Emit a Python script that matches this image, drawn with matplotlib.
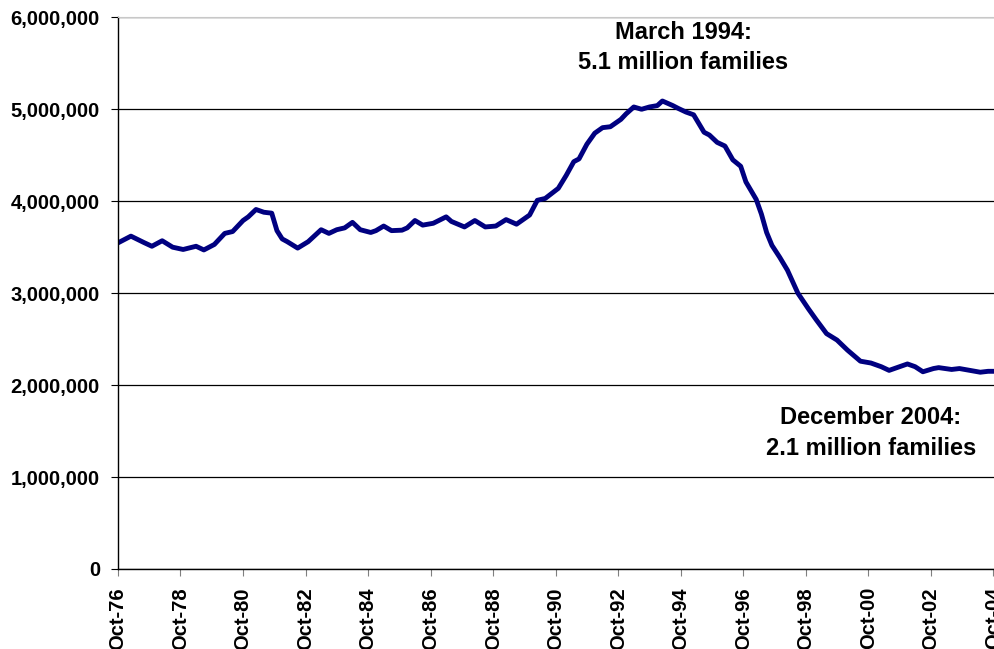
import pandas as pd
import matplotlib
matplotlib.use('Agg')
import matplotlib.pyplot as plt
import matplotlib.dates as mdates
from matplotlib.ticker import FuncFormatter

plt.rcParams['font.family'] = ['Liberation Sans', 'DejaVu Sans']
plt.rcParams['font.weight'] = 'bold'

months = ['1976-10', '1977-03', '1977-08', '1977-11', '1978-03', '1978-07', '1978-11',
          '1979-04', '1979-07', '1979-11', '1980-03', '1980-06', '1980-10', '1980-12',
          '1981-03', '1981-06', '1981-09', '1981-11', '1982-01', '1982-03', '1982-07',
          '1982-11', '1983-04', '1983-07', '1983-10', '1984-01', '1984-04', '1984-07',
          '1984-11', '1985-01', '1985-04', '1985-07', '1985-11', '1986-01', '1986-04',
          '1986-07', '1986-11', '1987-04', '1987-06', '1987-11', '1988-03', '1988-07',
          '1988-11', '1989-03', '1989-07', '1989-12', '1990-03', '1990-06', '1990-11',
          '1991-02', '1991-05', '1991-07', '1991-10', '1992-01', '1992-04', '1992-07',
          '1992-11', '1993-01', '1993-04', '1993-07', '1993-10', '1994-01', '1994-03',
          '1994-07', '1994-09', '1994-12', '1995-03', '1995-07', '1995-09', '1995-12',
          '1996-03', '1996-06', '1996-09', '1996-11', '1997-03', '1997-05', '1997-07',
          '1997-09', '1997-12', '1998-03', '1998-07', '1998-11', '1999-02', '1999-06',
          '1999-10', '2000-02', '2000-07', '2000-11', '2001-03', '2001-06', '2001-10',
          '2002-01', '2002-04', '2002-07', '2002-11', '2003-01', '2003-06', '2003-09',
          '2004-01', '2004-05', '2004-08', '2004-12']
families = [3547, 3620, 3550, 3510, 3570, 3500, 3475,
            3510, 3470, 3530, 3650, 3670, 3790, 3830,
            3910, 3880, 3870, 3680, 3590, 3560, 3490,
            3560, 3690, 3650, 3690, 3710, 3770, 3690,
            3660, 3680, 3730, 3680, 3685, 3710, 3790,
            3740, 3760, 3830, 3780, 3720, 3790, 3720,
            3730, 3800, 3750, 3850, 4010, 4030, 4140,
            4280, 4430, 4460, 4620, 4740, 4800, 4810,
            4890, 4950, 5025, 5000, 5025, 5040, 5090,
            5040, 5010, 4970, 4940, 4750, 4720, 4640,
            4600, 4450, 4380, 4210, 4020, 3860, 3660,
            3520, 3390, 3250, 3000, 2830, 2710, 2560,
            2490, 2380, 2260, 2240, 2200, 2160, 2200,
            2230, 2200, 2145, 2180, 2190, 2170, 2180,
            2160, 2140, 2150, 2150]

dates = pd.to_datetime(months)
vals = [v * 1000 for v in families]

fig = plt.figure(figsize=(9.95, 6.49), dpi=100)
ax = fig.add_axes([0.1186, 0.1233, 0.885, 0.850])

ax.plot(dates, vals, color='#000080', lw=3.5, solid_joinstyle='round')

ax.set_ylim(0, 6000000)
ax.set_xlim(pd.Timestamp('1976-10-01'), pd.Timestamp('2004-12-01'))
ax.set_yticks(range(0, 6000001, 1000000))
ax.yaxis.set_major_formatter(FuncFormatter(lambda v, p: '{:,.0f}'.format(v)))
ax.set_xticks(pd.date_range('1976-10-01', '2004-10-01', freq='24MS'))
ax.xaxis.set_major_formatter(mdates.DateFormatter('%b-%y'))

ax.grid(axis='y', color='black', lw=0.9)
ax.set_axisbelow(True)
ax.spines['right'].set_visible(False)
ax.spines['top'].set_color('#c8c8c8')
ax.spines['left'].set_lw(1)
ax.spines['bottom'].set_lw(1)

ax.tick_params(axis='y', length=5, pad=8, labelsize=14.5)
ax.tick_params(axis='x', length=5, pad=8, labelsize=14.5, rotation=90, color='#808080')
for lab in ax.get_xticklabels() + ax.get_yticklabels():
    lab.set_fontweight('bold')

ax.text(pd.Timestamp('1994-11-01'), 5674000, 'March 1994:\n5.1 million families',
        ha='center', va='center', fontsize=17, fontweight='bold', linespacing=1.42)
ax.text(pd.Timestamp('2000-11-01'), 1478000, 'December 2004:\n2.1 million families',
        ha='center', va='center', fontsize=17, fontweight='bold', linespacing=1.42)

fig.savefig('out.png', dpi=100)
